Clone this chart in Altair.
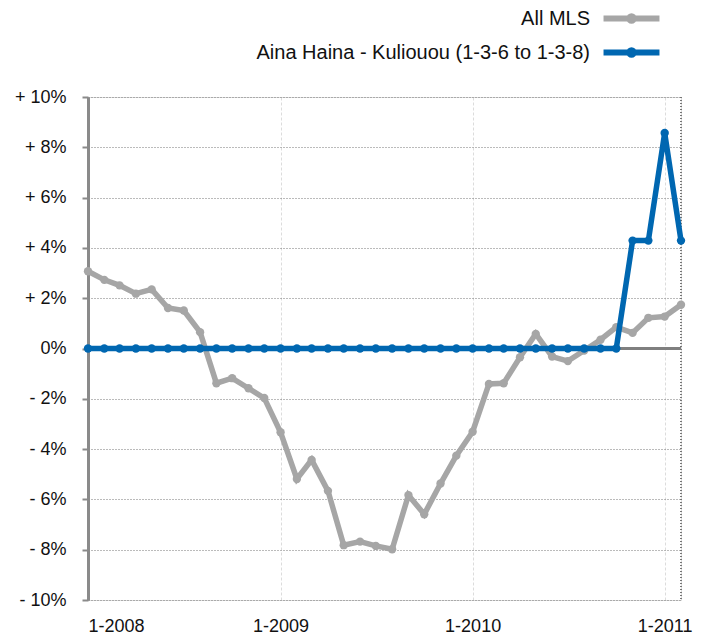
import altair as alt
import pandas as pd

months = [
    "2008-01-01", "2008-02-01", "2008-03-01", "2008-04-01", "2008-05-01", "2008-06-01",
    "2008-07-01", "2008-08-01", "2008-09-01", "2008-10-01", "2008-11-01", "2008-12-01",
    "2009-01-01", "2009-02-01", "2009-03-01", "2009-04-01", "2009-05-01", "2009-06-01",
    "2009-07-01", "2009-08-01", "2009-09-01", "2009-10-01", "2009-11-01", "2009-12-01",
    "2010-01-01", "2010-02-01", "2010-03-01", "2010-04-01", "2010-05-01", "2010-06-01",
    "2010-07-01", "2010-08-01", "2010-09-01", "2010-10-01", "2010-11-01", "2010-12-01",
    "2011-01-01", "2011-02-01",
]
all_mls = [
    3.07, 2.73, 2.51, 2.18, 2.35, 1.61, 1.51, 0.65, -1.38, -1.18, -1.58, -1.97,
    -3.33, -5.19, -4.43, -5.66, -7.82, -7.68, -7.85, -7.98, -5.83, -6.59, -5.37, -4.26,
    -3.31, -1.41, -1.38, -0.35, 0.58, -0.32, -0.50, -0.08, 0.35, 0.85, 0.62, 1.22,
    1.27, 1.74,
]
aina = [
    0, 0, 0, 0, 0, 0, 0, 0, 0, 0, 0, 0,
    0, 0, 0, 0, 0, 0, 0, 0, 0, 0, 0, 0,
    0, 0, 0, 0, 0, 0, 0, 0, 0, 0, 4.29, 4.29,
    8.57, 4.29,
]
series_names = ["All MLS", "Aina Haina - Kuliouou (1-3-6 to 1-3-8)"]
series_colors = ["#a6a6a6", "#0067b1"]
year_ticks = [2008, 2009, 2010, 2011]
y_ticks = [-10, -8, -6, -4, -2, 0, 2, 4, 6, 8, 10]

FONT = "Liberation Sans"

df = pd.DataFrame({
    "month": months + months,
    "value": all_mls + aina,
    "series": [series_names[0]] * len(months) + [series_names[1]] * len(months),
})

x_enc = alt.X(
    "month:T",
    scale=alt.Scale(
        type="utc",
        domain=[alt.DateTime(year=2008, month=1, date=1, utc=True),
                alt.DateTime(year=2011, month=2, date=1, utc=True)],
    ),
    axis=alt.Axis(
        values=[alt.DateTime(year=y, month=1, date=1, utc=True) for y in year_ticks],
        format="%-m-%Y",
        title=None,
        domain=False,
        ticks=False,
        labelPadding=17,
        labelFontSize=18,
        labelColor="#111",
        labelFont=FONT,
        grid=True,
        gridColor="#dcdcdc",
        gridDash=[3, 2],
        gridWidth=1,
    ),
)
y_enc = alt.Y(
    "value:Q",
    scale=alt.Scale(domain=[-10, 10], nice=False),
    axis=alt.Axis(
        values=y_ticks,
        title=None,
        labelExpr="datum.value > 0 ? '+ ' + datum.value + '%' : (datum.value < 0 ? '- ' + abs(datum.value) + '%' : '0%')",
        labelFontSize=18,
        labelColor="#111",
        labelFont=FONT,
        labelPadding=16,
        domainColor="#8a8a8a",
        domainWidth=3,
        tickColor="#8a8a8a",
        tickWidth=2,
        tickSize=6,
        grid=True,
        gridColor="#777",
        gridDash=[1, 2],
        gridWidth=1,
    ),
)

legend = alt.Legend(
    orient="none",
    legendX=533,
    legendY=-89,
    title=None,
    padding=0,
    symbolType="M-3.73,0H3.73M0.3,0A0.3,0.3,0,1,1,-0.3,0A0.3,0.3,0,1,1,0.3,0",
    symbolSize=225,
    symbolStrokeWidth=6,
    symbolOpacity=1,
    labelAlign="right",
    labelOffset={"expr": "-52"},
    labelFontSize=20,
    labelFont=FONT,
    labelColor="#111",
    labelLimit=600,
    rowPadding=5,
)
color_enc = alt.Color(
    "series:N",
    scale=alt.Scale(domain=series_names, range=series_colors),
    sort=series_names,
    legend=legend,
)

base = alt.Chart(df)

edge = alt.Chart(df).mark_rule(color="#777", strokeDash=[1, 2], strokeWidth=1).encode(
    x=alt.datum(alt.DateTime(year=2011, month=2, date=1, utc=True), type="temporal")
)
zero = alt.Chart(df).mark_rule(color="#7f7f7f", strokeWidth=3).encode(y=alt.datum(0))

gray = base.transform_filter(alt.datum.series == series_names[0]).mark_line(
    strokeWidth=5.5, point=alt.OverlayMarkDef(filled=True, size=70)
).encode(x=x_enc, y=y_enc, color=color_enc)
blue = base.transform_filter(alt.datum.series == series_names[1]).mark_line(
    strokeWidth=5.5, point=alt.OverlayMarkDef(filled=True, size=70)
).encode(x=x_enc, y=y_enc, color=color_enc)

chart = alt.layer(edge, zero, gray, blue).properties(
    width=593,
    height=503,
    padding={"left": 80, "top": 89, "right": 19, "bottom": 35},
    autosize=alt.AutoSizeParams(type="none"),
).configure_view(stroke=None).configure(font=FONT)

chart.save("out.html", embed_options={"renderer": "svg", "actions": False})
